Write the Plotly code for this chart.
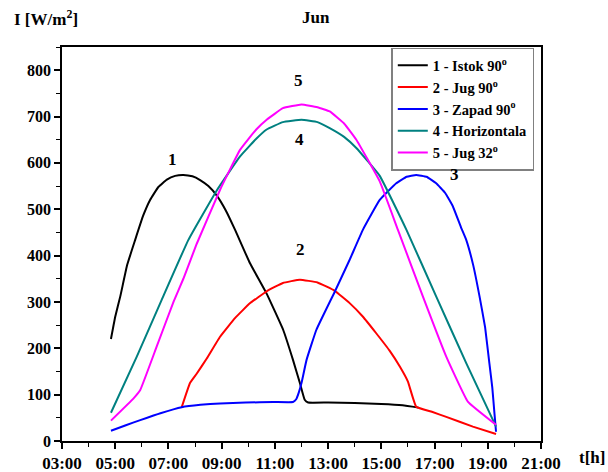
import plotly.graph_objects as go

# time in decimal hours, irradiance in W/m2
istok_t = [4.84, 5.0, 5.19, 5.45, 5.75, 6.05, 6.31, 6.62, 6.94, 7.25, 7.56, 7.9, 8.19, 8.5, 8.81, 9.15, 9.5, 10.06, 10.69, 11.31, 11.68, 11.94, 12.12, 12.25, 13.0, 14.0, 15.0, 15.8, 16.4]
istok_v = [220, 268, 312, 380, 434, 486, 520, 548, 564, 572, 574, 571, 563, 550, 530, 498, 456, 384, 318, 240, 175, 125, 89, 83, 83, 82, 80, 77, 72]

jug90_t = [7.5, 7.81, 8.06, 8.44, 8.94, 9.5, 10.06, 10.69, 11.3, 11.94, 12.6, 13.25, 13.8, 14.31, 14.8, 15.31, 15.7, 16.0, 16.31, 16.9, 17.44, 18.44, 19.31]
jug90_v = [73, 125, 145, 178, 225, 265, 297, 323, 341, 348, 342, 324, 298, 268, 233, 195, 160, 128, 74, 63, 52, 31, 15]

zapad_t = [4.84, 5.4, 5.94, 6.7, 7.5, 8.2, 8.94, 9.9, 10.94, 11.68, 11.8, 11.9, 12.0, 12.19, 12.56, 13.25, 13.81, 14.31, 14.94, 15.56, 15.95, 16.31, 16.7, 17.06, 17.4, 17.69, 18.0, 18.19, 18.45, 18.69, 18.9, 19.06, 19.17, 19.25, 19.31]
zapad_v = [22, 34, 45, 60, 73, 78, 81, 83, 84, 84, 90, 105, 125, 175, 240, 322, 391, 456, 520, 556, 570, 574, 570, 556, 535, 506, 460, 434, 380, 312, 245, 168, 115, 60, 20]

horiz_t = [4.84, 5.81, 6.75, 7.75, 8.81, 9.69, 10.3, 10.69, 11.3, 12.0, 12.6, 13.06, 13.6, 14.06, 14.94, 15.94, 17.06, 18.19, 19.31]
horiz_v = [61, 182, 305, 434, 540, 614, 652, 672, 688, 693, 688, 675, 656, 632, 572, 456, 312, 168, 31]

jug32_t = [4.84, 5.69, 5.94, 6.56, 7.19, 7.56, 8.06, 8.94, 9.69, 10.3, 10.69, 11.3, 12.0, 12.6, 13.06, 13.6, 14.06, 14.94, 15.62, 16.56, 17.44, 18.25, 19.31]
jug32_v = [44, 92, 110, 204, 300, 350, 425, 542, 628, 672, 693, 718, 726, 720, 711, 685, 650, 560, 456, 312, 182, 85, 35]

names = ["1 - Istok 90<sup>o</sup>", "2 - Jug 90<sup>o</sup>", "3 - Zapad 90<sup>o</sup>",
         "4 - Horizontala", "5 - Jug 32<sup>o</sup>"]
colors = ["#000000", "#ff0000", "#0000ff", "#008080", "#ff00ff"]

x_tickvals = [3, 5, 7, 9, 11, 13, 15, 17, 19, 21]
x_ticktext = ["03:00", "05:00", "07:00", "09:00", "11:00", "13:00", "15:00", "17:00", "19:00", "21:00"]
y_tickvals = [0, 100, 200, 300, 400, 500, 600, 700, 800]

curve_labels = ["1", "2", "3", "4", "5"]
label_t = [7.16, 11.96, 17.75, 11.93, 11.87]
label_v = [607, 413, 574, 650, 778]

FONT = "Liberation Serif, Times New Roman, Times, serif"

fig = go.Figure()
series = [(istok_t, istok_v), (jug90_t, jug90_v), (zapad_t, zapad_v), (horiz_t, horiz_v), (jug32_t, jug32_v)]
for (t, v), n, c in zip(series, names, colors):
    fig.add_trace(go.Scatter(x=t, y=v, mode="lines", name=n,
                             line=dict(color=c, width=2, shape="spline", smoothing=0.3)))

bold17 = dict(family=FONT, size=17, color="black", weight="bold")
annotations = []
for lab, t, v in zip(curve_labels, label_t, label_v):
    annotations.append(dict(x=t, y=v, xref="x", yref="y", text=lab, showarrow=False,
                            xanchor="center", yanchor="middle", font=bold17))
annotations += [
    dict(x=0.530, y=1.074, xref="paper", yref="paper", text="Jun", showarrow=False,
         xanchor="center", yanchor="middle", font=bold17),
    dict(x=-0.104, y=1.074, xref="paper", yref="paper", text="I [W/m<sup>2</sup>]", showarrow=False,
         xanchor="left", yanchor="middle", font=bold17),
    dict(x=1.107, y=-0.041, xref="paper", yref="paper", text="t[h]", showarrow=False,
         xanchor="center", yanchor="middle", font=bold17),
]

fig.update_layout(
    width=608, height=472,
    margin=dict(l=62, r=67, t=47, b=31),
    paper_bgcolor="white", plot_bgcolor="white",
    font=dict(family=FONT, size=16, color="black", weight="bold"),
    showlegend=True,
    legend=dict(x=0.986, y=0.998, xanchor="right", yanchor="top",
                bgcolor="white", bordercolor="#808080", borderwidth=1.5,
                font=dict(family=FONT, size=14.5, color="black", weight="bold"),
                tracegroupgap=0),
    annotations=annotations,
)
axis_common = dict(showgrid=False, zeroline=False, showline=True, linecolor="black", linewidth=1.5,
                   mirror=True, ticks="outside", ticklen=6, tickwidth=1.5, tickcolor="black",
                   automargin=False)
fig.update_xaxes(range=[3, 21], tickvals=x_tickvals, ticktext=x_ticktext,
                 tickfont=dict(family=FONT, size=17, weight="bold"),
                 minor=dict(dtick=1, tick0=3, ticks="outside", ticklen=4, tickwidth=1.2, tickcolor="black"),
                 **axis_common)
fig.update_yaxes(range=[0, 850], tickvals=y_tickvals,
                 tickfont=dict(family=FONT, size=16, weight="bold"),
                 minor=dict(dtick=50, tick0=0, ticks="outside", ticklen=4, tickwidth=1.2, tickcolor="black"),
                 **axis_common)

fig.write_html("out.html", config={"displayModeBar": False},
               post_script="document.body.style.margin='0';")
